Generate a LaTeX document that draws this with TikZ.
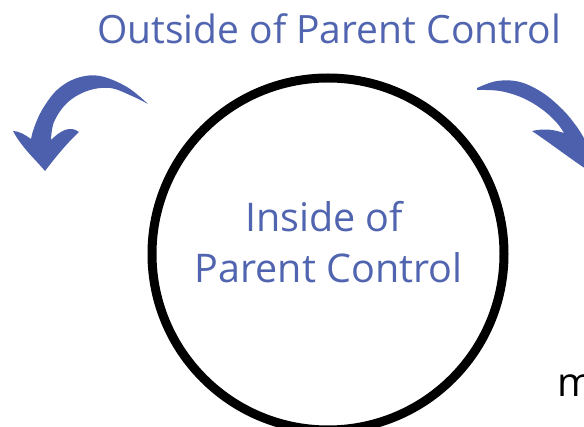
\documentclass[tikz,border=0pt]{standalone}
\usepackage{fontspec}
\setmainfont{Open Sans}
\definecolor{ctrlblue}{HTML}{5064B0}
\definecolor{arrowblue}{HTML}{4C60AE}
\begin{document}
\begin{tikzpicture}[x=1pt,y=-1pt,
  label/.style={text=ctrlblue,font=\fontsize{39}{44}\selectfont,inner sep=0pt,anchor=base},
  ring/.style={draw=black,line width=9pt,circle,minimum size=352pt,inner sep=0pt},
  bigarrow/.style={fill=arrowblue,draw=none}]
\path[use as bounding box,clip] (0,0) rectangle (584,427);
\fill[white] (0,0) rectangle (584,427);

% the control circle
\node[ring] (circ) at (328,254) {};

% labels
\node[label] (outside) at (329,44) {Outside of Parent Control};
\node[label,font=\fontsize{39.5}{44}\selectfont] (inside1) at (324,232) {Inside of};
\node[label,font=\fontsize{39.5}{44}\selectfont] (inside2) at (328.5,283) {Parent Control};
\node[inner sep=0pt,anchor=base west,font=\fontsize{40}{44}\selectfont] (cut) at (557,397) {m};

% curved arrow on the left
\fill[bigarrow]
  plot[smooth,tension=0.6] coordinates {(148,104) (127,87) (100,76) (77,78) (57,90) (42,110) (34,128) (31,139)}
  .. controls (24,134) and (18,131) .. (13,131)
  .. controls (22,148) and (36,160) .. (45,171)
  .. controls (55,158) and (66,144) .. (79,132)
  .. controls (70,125) and (60,131) .. (51,140)
  -- plot[smooth,tension=0.6] coordinates {(51,140) (54,122) (67,103) (87,91) (110,88) (132,96) (148,104)}
  -- cycle;

% curved arrow on the right
\fill[bigarrow]
  plot[smooth,tension=0.6] coordinates {(477,88) (497,81) (520,82) (543,93) (563,110) (577,127) (585,140)}
  .. controls (596,136) and (604,131) .. (612,128)
  .. controls (606,145) and (598,158) .. (592,173)
  .. controls (572,160) and (550,143) .. (532,131)
  .. controls (545,128) and (555,130) .. (564,133)
  -- plot[smooth,tension=0.6] coordinates {(564,133) (557,123) (543,110) (523,98) (500,91) (477,90)}
  -- cycle;
\end{tikzpicture}
\end{document}
